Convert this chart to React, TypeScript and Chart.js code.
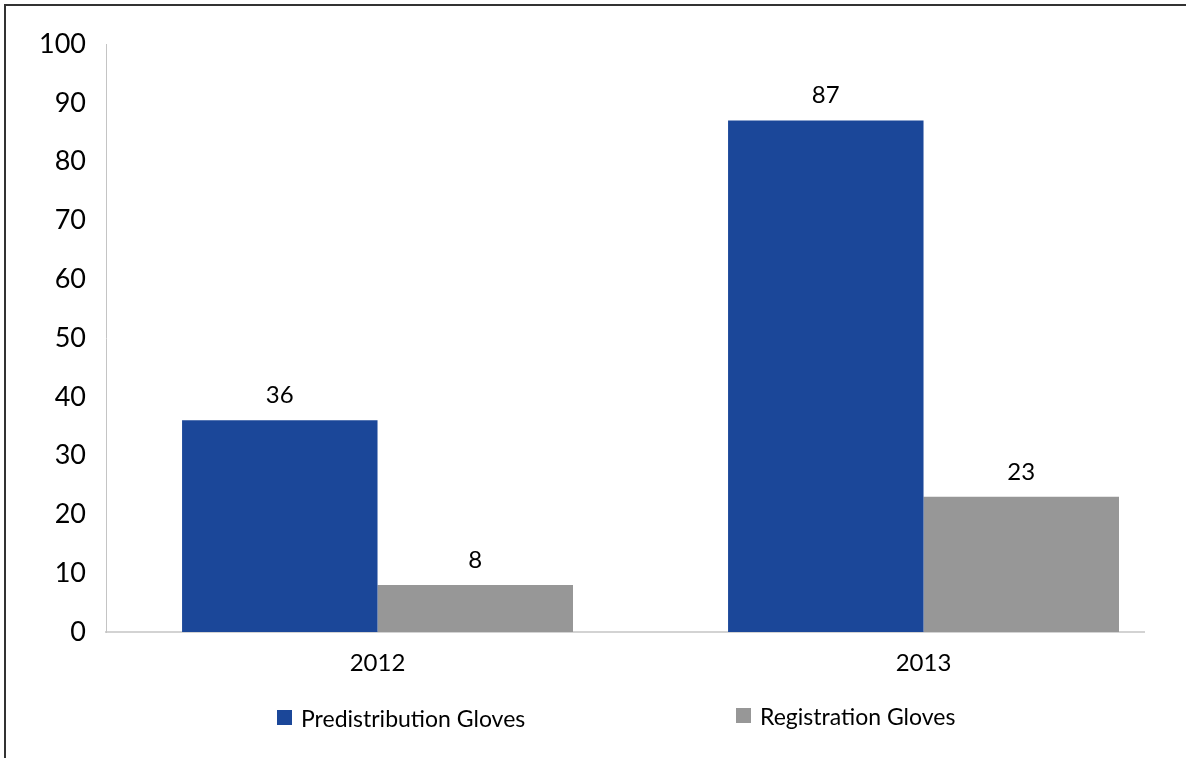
import React, { useEffect, useRef } from 'react';
import { Chart, registerables } from 'chart.js';

Chart.register(...registerables);

// ---- data ----
const categories: string[] = ['2012', '2013'];
const seriesNames: string[] = ['Predistribution Gloves', 'Registration Gloves'];
const predistributionGloves: number[] = [36, 87];
const registrationGloves: number[] = [8, 23];
const yAxisMin = 0;
const yAxisMax = 100;
const yAxisStep = 10;

// ---- style ----
const FONT = 'Lato, "Open Sans", "DejaVu Sans", sans-serif';
const seriesColors = ['#1b4799', '#979797'];

const valueLabelsPlugin = {
  id: 'valueLabels',
  afterDatasetsDraw(chart: any) {
    const ctx = chart.ctx;
    ctx.save();
    ctx.font = `24px ${FONT}`;
    ctx.fillStyle = '#000';
    ctx.textAlign = 'center';
    ctx.textBaseline = 'alphabetic';
    chart.data.datasets.forEach((ds: any, di: number) => {
      const meta = chart.getDatasetMeta(di);
      meta.data.forEach((el: any, i: number) => {
        const v = ds.data[i].y;
        ctx.fillText(String(v), el.x, el.y - 17);
      });
    });
    ctx.restore();
  },
};

const legendPlugin = {
  id: 'customLegend',
  afterDraw(chart: any) {
    const ctx = chart.ctx;
    const items = [
      { boxX: 277, boxY: 710, textX: 301, baseY: 727 },
      { boxX: 736, boxY: 708, textX: 760, baseY: 725 },
    ];
    ctx.save();
    ctx.font = `23px ${FONT}`;
    ctx.textAlign = 'left';
    ctx.textBaseline = 'alphabetic';
    chart.data.datasets.forEach((ds: any, di: number) => {
      const it = items[di];
      ctx.fillStyle = ds.backgroundColor;
      ctx.fillRect(it.boxX, it.boxY, 15, 15);
      ctx.fillStyle = '#000';
      ctx.fillText(ds.label, it.textX, it.baseY);
    });
    ctx.restore();
  },
};

export default function App() {
  const canvasRef = useRef<HTMLCanvasElement | null>(null);

  useEffect(() => {
    document.body.style.margin = '0';
    const canvas = canvasRef.current;
    if (!canvas) return;
    const chart = new Chart(canvas, {
      type: 'bar',
      data: {
        datasets: [
          {
            label: seriesNames[0],
            data: predistributionGloves.map((v, i) => ({ x: i, y: v })),
            backgroundColor: seriesColors[0],
            borderWidth: 0,
          },
          {
            label: seriesNames[1],
            data: registrationGloves.map((v, i) => ({ x: i, y: v })),
            backgroundColor: seriesColors[1],
            borderWidth: 0,
          },
        ],
      },
      options: {
        animation: false,
        responsive: false,
        maintainAspectRatio: false,
        devicePixelRatio: 1,
        layout: { padding: { top: 44, right: 42, bottom: 0, left: 0 } },
        datasets: {
          bar: { categoryPercentage: 0.716, barPercentage: 1 },
        },
        plugins: {
          legend: { display: false },
          tooltip: { enabled: false },
          title: { display: false },
        },
        scales: {
          x: {
            type: 'linear',
            min: -0.4973,
            max: 1.4038,
            offset: false,
            grid: { display: false, drawTicks: false, offset: false },
            border: { display: true, color: '#d3d3d3', width: 2 },
            afterBuildTicks: (scale: any) => {
              scale.ticks = categories.map((_, i) => ({ value: i }));
            },
            afterFit: (scale: any) => {
              scale.height = 126;
            },
            ticks: {
              autoSkip: false,
              maxRotation: 0,
              padding: 17,
              color: '#000',
              font: { family: FONT, size: 24 },
              callback: (v: any) => categories[Math.round(Number(v))] ?? '',
            },
          },
          y: {
            min: yAxisMin,
            max: yAxisMax,
            grid: { display: false, drawTicks: false },
            border: { display: true, color: '#c4c4c4', width: 1 },
            afterFit: (scale: any) => {
              scale.width = 106;
            },
            ticks: {
              stepSize: yAxisStep,
              padding: 20,
              color: '#000',
              font: { family: FONT, size: 27 },
            },
          },
        },
      },
      plugins: [valueLabelsPlugin, legendPlugin],
    } as any);
    return () => chart.destroy();
  }, []);

  return (
    <div style={{ position: 'relative', width: 1186, height: 758, overflow: 'hidden', background: '#fff' }}>
      <canvas ref={canvasRef} width={1186} height={758} style={{ display: 'block' }} />
      <div
        style={{
          position: 'absolute',
          left: 4,
          top: 4,
          width: 1300,
          height: 900,
          borderTop: '2px solid #333',
          borderLeft: '2px solid #333',
          pointerEvents: 'none',
        }}
      />
    </div>
  );
}
